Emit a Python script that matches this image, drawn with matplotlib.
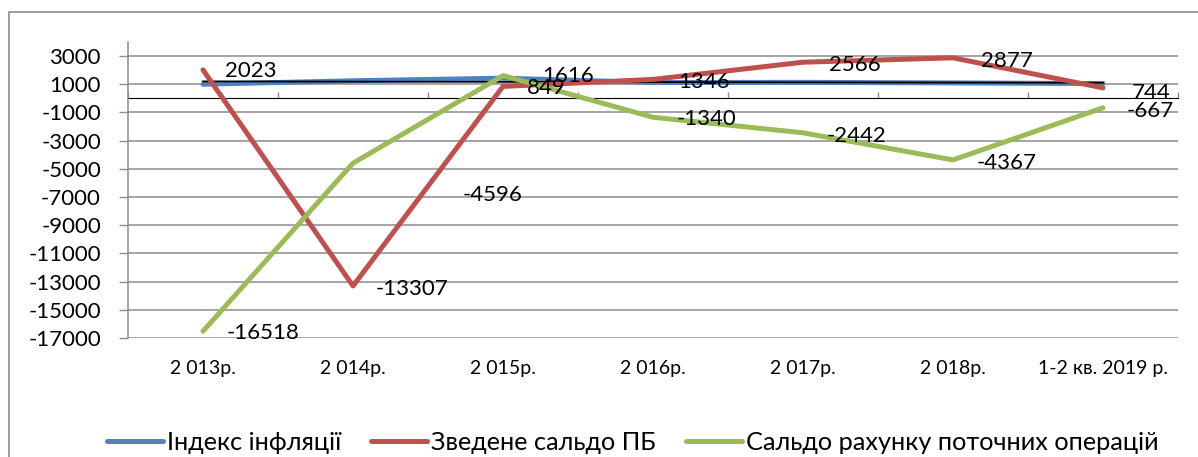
import numpy as np
import matplotlib
matplotlib.use("Agg")
import matplotlib.pyplot as plt
from matplotlib.patches import Rectangle

plt.rcParams['font.family'] = ['Lato', 'DejaVu Sans']
plt.rcParams['axes.unicode_minus'] = False

# data
years = ['2 013р.', '2 014р.', '2 015р.', '2 016р.', '2 017р.', '2 018р.', '1-2 кв. 2019 р.']
inflation = [1005, 1249, 1433, 1124, 1137, 1098, 1050]
budget = [2023, -13307, 849, 1346, 2566, 2877, 744]
current = [-16518, -4596, 1616, -1340, -2442, -4367, -667]
series_names = ['Індекс інфляції', 'Зведене сальдо ПБ', 'Сальдо рахунку поточних операцій']

# label offsets in points (Excel "right" placement, one moved by hand)
budget_off = [(16, -1), (16, -2), (17, -1), (18, -2), (19, -2), (20, -2), (21, -4)]
current_off = [(17, -1), (79, -23), (28, 0), (17, -1), (17, -2), (17, -2), (17, -2)]

blue = '#4F81BD'
red = '#C0504D'
green = '#9BBB59'
grey = '#8C8C8C'

fig = plt.figure(figsize=(11.98, 4.57), dpi=100)
ax = fig.add_axes([128/1198, 1-338/457, 1050/1198, 296/457])

x = np.arange(len(years))
ax.plot(x, inflation, color=blue, lw=3.6, solid_capstyle='round', zorder=3, label=series_names[0])
# linear trend of the inflation series
k, b = np.polyfit(x, inflation, 1)
ax.plot(x, k*x + b, color='black', lw=1.3, zorder=3.5)
ax.plot(x, budget, color=red, lw=3.6, solid_capstyle='round', zorder=4, label=series_names[1])
ax.plot(x, current, color=green, lw=3.6, solid_capstyle='round', zorder=4, label=series_names[2])

for xi, v, off in zip(x, budget, budget_off):
    ax.annotate(str(v), (xi, v), xytext=off, textcoords='offset points',
                ha='left', va='center', fontsize=16, zorder=6)
for xi, v, off in zip(x, current, current_off):
    ax.annotate(str(v), (xi, v), xytext=off, textcoords='offset points',
                ha='left', va='center', fontsize=16, zorder=6)

ax.set_xlim(-0.5, 6.5)
ax.set_ylim(-17000, 4000)
ax.set_yticks(np.arange(-17000, 3001, 2000))
ax.set_yticklabels([str(v) for v in range(-17000, 3001, 2000)])
ax.yaxis.grid(True, color=grey, lw=1.1)
ax.set_axisbelow(True)
ax.tick_params(axis='y', direction='out', length=6.5, width=1, color=grey, pad=13, labelsize=16)

ax.set_xticks(x)
ax.set_xticklabels(years)
ax.tick_params(axis='x', length=0, pad=16, labelsize=14)

for s in ['top', 'right', 'bottom']:
    ax.spines[s].set_visible(False)
ax.spines['left'].set_color(grey)
ax.spines['left'].set_linewidth(1.1)

# horizontal axis line crossing at zero
sec = ax.secondary_xaxis(17/21)
sec.set_xticks(np.arange(-0.5, 7, 1))
sec.set_xticklabels([])
sec.spines['bottom'].set_color(grey)
sec.spines['bottom'].set_linewidth(1.1)
sec.tick_params(direction='out', length=4.5, width=1, color=grey)

fig.legend(loc='center', bbox_to_anchor=(633/1198, 1-442/457), ncol=3, frameon=False,
           fontsize=18.2, handlelength=2.2, handletextpad=0.17, columnspacing=1.2)

fig.patches.append(Rectangle((9/1198, -0.1), 1.2, 1.1 - 12/457, transform=fig.transFigure,
                             fill=False, edgecolor=grey, lw=1.2))

fig.savefig('out.png', dpi=100)
